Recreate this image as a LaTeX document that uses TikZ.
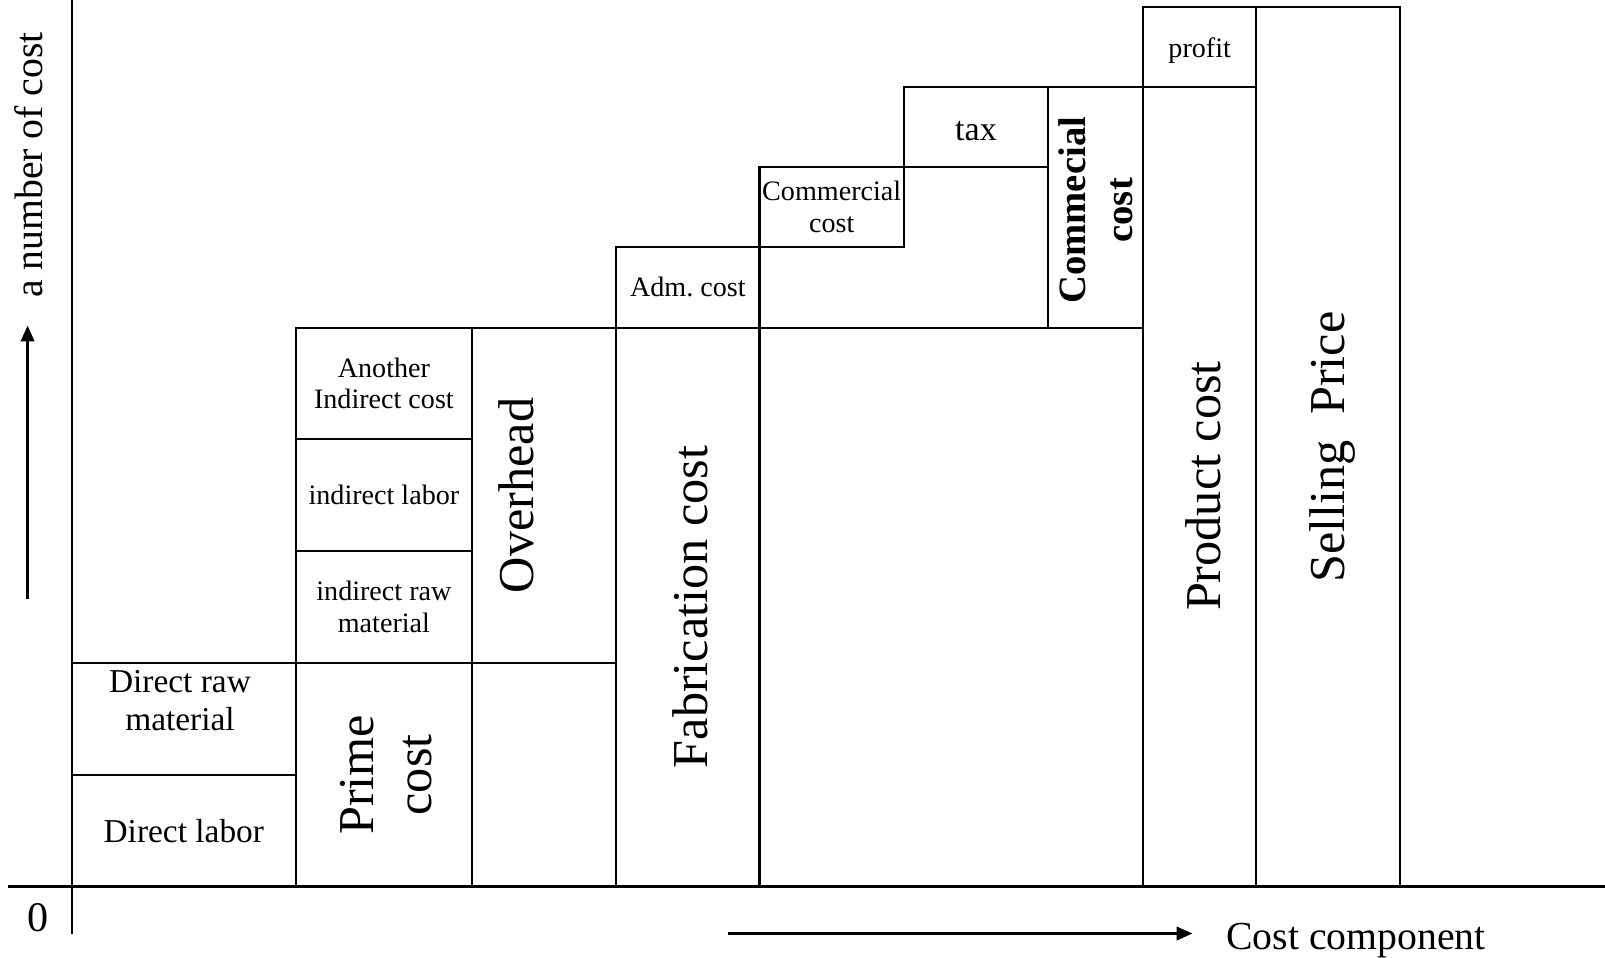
\documentclass[tikz,border=0pt]{standalone}
\usepackage{fontspec}
\setmainfont{Liberation Serif}
\usetikzlibrary{arrows.meta}

\begin{document}
\begin{tikzpicture}[
  cell/.style={line width=0.6pt},
  bigtext/.style={rotate=90,align=center,font=\fontsize{14.3}{16.5}\selectfont},
  midtext/.style={align=center,font=\fontsize{9.5}{10.8}\selectfont},
  smalltext/.style={align=center,font=\fontsize{8}{9}\selectfont},
  axistext/.style={font=\fontsize{11.3}{13}\selectfont},
  arr/.style={line width=0.7pt,-{Triangle[length=4.5pt,width=3.8pt]}}
]
  \useasboundingbox (0,0) rectangle (16.05,9.57);
  % 坐标轴
  \draw[line width=0.9pt] (0.08,0.705) -- (16.05,0.705);
  \draw[line width=0.6pt] (0.717,0.235) -- (0.717,9.57);
  \node[axistext,font=\fontsize{12}{14}\selectfont] (zero) at (0.38,0.39) {0};
  \coordinate (ya) at (0.276,3.58);
  \coordinate (yb) at (0.276,6.315);
  \draw[arr] (ya) -- (yb);
  \node[axistext,rotate=90] (ylab) at (0.29,7.92) {a number of cost};
  \coordinate (xa) at (7.278,0.235);
  \coordinate (xb) at (11.925,0.235);
  \draw[arr] (xa) -- (xb);
  \node[axistext] (xlab) at (13.56,0.16) {Cost component};
  % 成本方框
  \foreach \xa/\ya/\xb/\yb in {0.717/0.705/2.958/1.821, 0.717/1.821/2.958/2.937,
      2.958/0.705/4.719/2.937, 2.958/2.937/4.719/4.063, 2.958/4.063/4.719/5.179,
      2.958/5.179/4.719/6.294, 4.719/0.705/6.162/2.937, 4.719/2.937/6.162/6.294,
      6.162/0.705/7.595/6.294, 6.162/6.294/7.595/7.103, 7.595/0.705/11.434/6.294,
      7.595/7.103/9.038/7.901, 9.038/7.901/10.482/8.70, 10.482/6.294/11.434/8.70,
      11.434/0.705/12.560/8.70, 11.434/8.70/12.560/9.498, 12.560/0.705/14.003/9.498}
    \draw[cell] (\xa,\ya) rectangle (\xb,\yb);
  % 文字
  \node[midtext] (dlabor) at (1.838,1.263) {Direct labor};
  \node[midtext] (rawmat) at (1.80,2.56) {Direct raw\\material};
  \node[bigtext] (prime) at (3.86,1.821) {Prime\\cost};
  \node[smalltext] (indraw) at (3.839,3.50) {indirect raw\\material};
  \node[smalltext] (indlabor) at (3.839,4.621) {indirect labor};
  \node[smalltext] (another) at (3.839,5.737) {Another\\Indirect cost};
  \node[bigtext] (overhead) at (5.16,4.616) {Overhead};
  \node[bigtext] (fabric) at (6.90,3.50) {Fabrication cost};
  \node[smalltext] (adm) at (6.879,6.699) {Adm.\ cost};
  \node[smalltext] (commercial) at (8.317,7.502) {Commercial\\cost};
  \node[midtext,font=\fontsize{9.7}{11}\selectfont] (tax) at (9.76,8.26) {tax};
  \node[rotate=90,align=center,font=\fontsize{11}{13.6}\selectfont\bfseries] (commecial) at (10.958,7.467) {Commecial\\cost};
  \node[bigtext] (product) at (12.03,4.71) {Product cost};
  \node[smalltext] (profit) at (11.997,9.06) {profit};
  \node[bigtext] (selling) at (13.32,5.10) {Selling~~Price};
\end{tikzpicture}
\end{document}
